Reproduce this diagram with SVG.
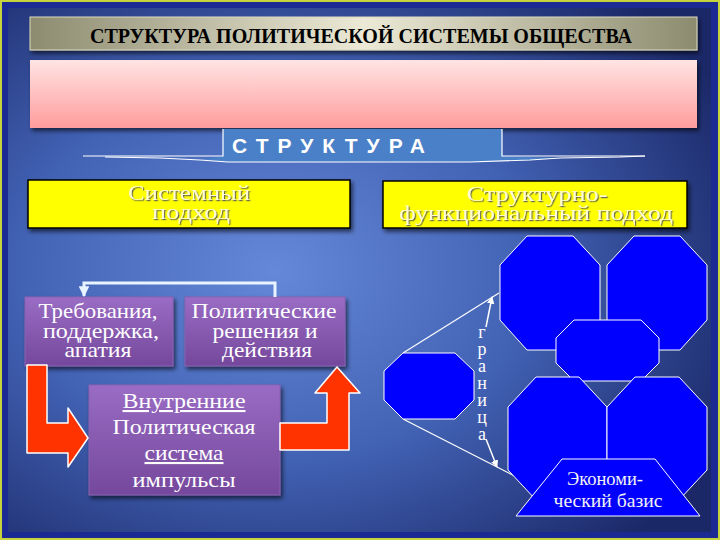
<svg xmlns="http://www.w3.org/2000/svg" width="720" height="540" viewBox="0 0 720 540">
<defs>
  <radialGradient id="bg" cx="0.38" cy="0.5" r="0.72">
    <stop offset="0" stop-color="#6688d8"/>
    <stop offset="0.5" stop-color="#4262b4"/>
    <stop offset="1" stop-color="#1b2868"/>
  </radialGradient>
  <linearGradient id="titleg" x1="0" y1="0" x2="1" y2="0">
    <stop offset="0" stop-color="#8d8b6f"/>
    <stop offset="0.5" stop-color="#ecead6"/>
    <stop offset="1" stop-color="#8d8b6f"/>
  </linearGradient>
  <linearGradient id="pinkg" x1="0" y1="0" x2="0" y2="1">
    <stop offset="0" stop-color="#ffe4e4"/>
    <stop offset="1" stop-color="#ff9c9c"/>
  </linearGradient>
  <linearGradient id="purpg" x1="0" y1="0" x2="0" y2="1">
    <stop offset="0" stop-color="#9a6cc4"/>
    <stop offset="1" stop-color="#74489c"/>
  </linearGradient>
  <filter id="shadow" x="-10%" y="-10%" width="130%" height="140%">
    <feDropShadow dx="2" dy="3" stdDeviation="2" flood-color="#000" flood-opacity="0.6"/>
  </filter>
  <filter id="tshadow" x="-5%" y="-20%" width="110%" height="150%">
    <feDropShadow dx="1.2" dy="1.2" stdDeviation="0.4" flood-color="#555" flood-opacity="0.9"/>
  </filter>
  <marker id="ah" viewBox="0 0 10 10" refX="9" refY="5" markerWidth="5" markerHeight="5" orient="auto">
    <path d="M0,0 L10,5 L0,10 z" fill="#ffffff"/>
  </marker>
  <marker id="ahb" viewBox="0 0 10 10" refX="9" refY="5" markerWidth="3.6" markerHeight="3.6" orient="auto">
    <path d="M0,0 L10,5 L0,10 z" fill="#e8f4ff"/>
  </marker>
</defs>
<style>
  .serif { font-family: "Liberation Serif", "Times New Roman", serif; }
  .sans { font-family: "Liberation Sans", Arial, sans-serif; }
  .ybox { fill: #ffff00; stroke: #000; stroke-width: 1.5; }
  .ytext { font-family: "Liberation Serif", serif; font-size: 21px; fill: #fffbd2; text-anchor: middle; }
  .pbox { fill: url(#purpg); stroke: #8a60b0; stroke-width: 1; }
  .ptext { font-family: "Liberation Serif", serif; font-size: 21px; fill: #ffffff; text-anchor: middle; }
  .oct { fill: #0000ff; stroke: #ffffff; stroke-width: 1; }
  .red { fill: #ff3300; stroke: #ffffff; stroke-width: 1.5; stroke-linejoin: round; }
  .wline { fill: none; stroke: #ffffff; stroke-width: 1.2; }
</style>

<!-- background and frame -->
<rect x="0" y="0" width="720" height="540" fill="#1a2a92"/>
<rect x="8" y="8" width="703" height="524" fill="url(#bg)"/>
<rect x="1" y="1" width="718" height="538" fill="none" stroke="#c8d23c" stroke-width="2"/>

<!-- title bar -->
<g id="title">
  <rect x="30" y="17" width="667" height="33" fill="url(#titleg)" stroke="#dcdac0" stroke-width="1" filter="url(#shadow)"/>
  <text x="361" y="43" class="serif" font-size="20" font-weight="bold" text-anchor="middle" fill="#000" textLength="542" lengthAdjust="spacingAndGlyphs">СТРУКТУРА ПОЛИТИЧЕСКОЙ СИСТЕМЫ ОБЩЕСТВА</text>
</g>

<!-- pink bar -->
<g id="pinkbar">
  <rect x="30" y="60" width="667" height="68" fill="url(#pinkg)" filter="url(#shadow)"/>
</g>

<!-- СТРУКТУРА header -->
<g id="structure">
  <path d="M223,129 L502,129 L502,156 L560,158 L530,160 L470,162 L228,162 L200,160 L223,156 Z" fill="#4a80c8"/>
  <path class="wline" d="M83,156 L223,156 L223,129"/>
  <path class="wline" d="M105,157 L160,158 L200,160 L228,162 L470,162 L530,160 L560,158 L620,157 L645,156"/>
  <path class="wline" d="M502,129 L502,156 L645,156"/>
  <text x="232" y="153" class="sans" font-size="21" font-weight="bold" fill="#ffffff" textLength="193" lengthAdjust="spacing">СТРУКТУРА</text>
</g>

<!-- yellow approach boxes -->
<g id="system-approach">
  <rect class="ybox" x="28" y="180" width="322" height="48" filter="url(#shadow)"/>
  <g filter="url(#tshadow)">
    <text class="ytext" x="189" y="200" textLength="122" lengthAdjust="spacingAndGlyphs">Системный</text>
    <text class="ytext" x="191" y="219" textLength="78" lengthAdjust="spacingAndGlyphs">подход</text>
  </g>
</g>
<g id="structfunc-approach">
  <rect class="ybox" x="383" y="181" width="304" height="47" filter="url(#shadow)"/>
  <g filter="url(#tshadow)">
    <text class="ytext" x="537" y="201" textLength="141" lengthAdjust="spacingAndGlyphs">Структурно-</text>
    <text class="ytext" x="536" y="220" textLength="274" lengthAdjust="spacingAndGlyphs">функциональный подход</text>
  </g>
</g>

<!-- purple boxes -->
<g id="demands">
  <rect class="pbox" x="25" y="297" width="148" height="69" filter="url(#shadow)"/>
  <text class="ptext" x="98" y="318" textLength="119" lengthAdjust="spacingAndGlyphs">Требования,</text>
  <text class="ptext" x="101" y="338" textLength="116" lengthAdjust="spacingAndGlyphs">поддержка,</text>
  <text class="ptext" x="98" y="357" textLength="67" lengthAdjust="spacingAndGlyphs">апатия</text>
</g>
<g id="decisions">
  <rect class="pbox" x="185" y="297" width="160" height="69" filter="url(#shadow)"/>
  <text class="ptext" x="264" y="318" textLength="145" lengthAdjust="spacingAndGlyphs">Политические</text>
  <text class="ptext" x="265" y="338" textLength="105" lengthAdjust="spacingAndGlyphs">решения и</text>
  <text class="ptext" x="267" y="357" textLength="90" lengthAdjust="spacingAndGlyphs">действия</text>
</g>
<g id="polsystem">
  <rect class="pbox" x="89" y="385" width="191" height="110" filter="url(#shadow)"/>
  <text class="ptext" x="184" y="408" text-decoration="underline" textLength="123" lengthAdjust="spacingAndGlyphs">Внутренние</text>
  <text class="ptext" x="184" y="434" textLength="143" lengthAdjust="spacingAndGlyphs">Политическая</text>
  <text class="ptext" x="184" y="460" text-decoration="underline" textLength="79" lengthAdjust="spacingAndGlyphs">система</text>
  <text class="ptext" x="184" y="487" textLength="103" lengthAdjust="spacingAndGlyphs">импульсы</text>
</g>

<!-- connectors -->
<g id="connectors">
  <path d="M275,297 L275,283 L84,283 L84,296" fill="none" stroke="#e8f4ff" stroke-width="3" marker-end="url(#ahb)"/>
  <path class="red" d="M27,365 L47,365 L47,423 L68,423 L68,408 L88,438 L68,467 L68,453 L27,453 Z"/>
  <path class="red" d="M280,423 L327,423 L327,393 L315,393 L337,367 L360,393 L349,393 L349,450 L280,450 Z"/>
  <line class="wline" x1="403" y1="353" x2="499" y2="293"/>
  <line class="wline" x1="403" y1="419" x2="538" y2="488"/>
  <line x1="486" y1="327" x2="492" y2="297" stroke="#ffffff" stroke-width="1.5" marker-end="url(#ah)"/>
  <line x1="486" y1="439" x2="497" y2="467" stroke="#ffffff" stroke-width="1.5" marker-end="url(#ah)"/>
</g>

<!-- octagons -->
<g id="oct-top-left"><polygon class="oct" points="527,236 573,236 600,265 600,320 573,350 527,350 500,320 500,265"/></g>
<g id="oct-top-right"><polygon class="oct" points="634,236 680,236 707,265 707,320 680,350 634,350 607,320 607,265"/></g>
<g id="oct-middle"><polygon class="oct" points="574,320 641,320 659,338 659,363 641,381 574,381 556,363 556,338"/></g>
<g id="oct-left"><polygon class="oct" points="403,353 455,353 474,371 474,400 455,419 403,419 384,400 384,371"/></g>
<g id="oct-bottom-left"><polygon class="oct" points="536,377 579,377 607,407 607,470 579,500 536,500 508,470 508,407"/></g>
<g id="oct-bottom-right"><polygon class="oct" points="635,377 679,377 707,407 707,470 679,500 635,500 607,470 607,407"/></g>

<!-- граница -->
<g id="boundary-label" class="serif" font-size="18" fill="#ffffff" text-anchor="middle">
  <text x="482" y="338">г</text>
  <text x="482" y="355">р</text>
  <text x="482" y="372">а</text>
  <text x="482" y="389">н</text>
  <text x="482" y="406">и</text>
  <text x="482" y="423">ц</text>
  <text x="482" y="440">а</text>
</g>

<!-- economic base -->
<g id="economic-base">
  <polygon class="oct" points="562,459 655,459 700,516 516,516"/>
  <text class="serif" x="605" y="485" font-size="19" fill="#f2f2f2" text-anchor="middle" textLength="76" lengthAdjust="spacingAndGlyphs">Экономи-</text>
  <text class="serif" x="608" y="507" font-size="19" fill="#f2f2f2" text-anchor="middle" textLength="109" lengthAdjust="spacingAndGlyphs">ческий базис</text>
</g>
</svg>
